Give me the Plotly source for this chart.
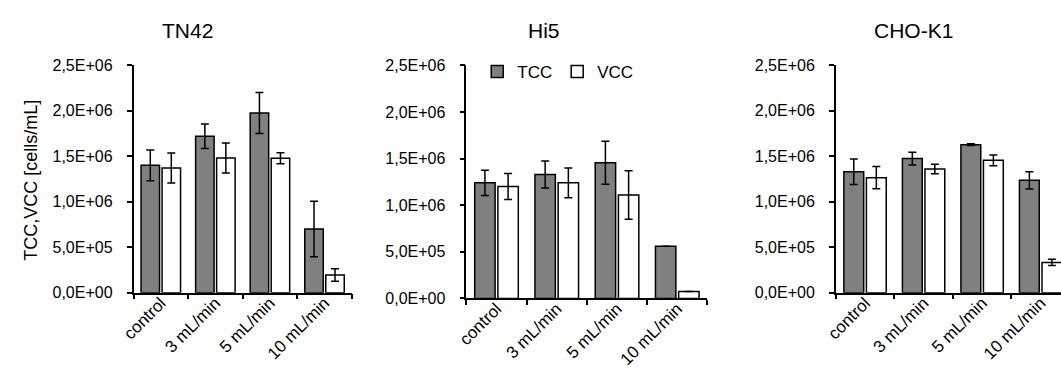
import plotly.graph_objects as go

categories = ["control", "3 mL/min", "5 mL/min", "10 mL/min"]
panels = ["TN42", "Hi5", "CHO-K1"]

# values in cells/mL
tn42_tcc = [1.40e6, 1.72e6, 1.975e6, 0.70e6]
tn42_tcc_err = [0.17e6, 0.135e6, 0.225e6, 0.305e6]
tn42_vcc = [1.37e6, 1.48e6, 1.478e6, 0.195e6]
tn42_vcc_err = [0.165e6, 0.165e6, 0.06e6, 0.068e6]

hi5_tcc = [1.24e6, 1.33e6, 1.455e6, 0.56e6]
hi5_tcc_err = [0.135e6, 0.145e6, 0.23e6, 0.0]
hi5_vcc = [1.20e6, 1.24e6, 1.11e6, 0.075e6]
hi5_vcc_err = [0.14e6, 0.16e6, 0.26e6, 0.0]

cho_tcc = [1.33e6, 1.475e6, 1.628e6, 1.236e6]
cho_tcc_err = [0.14e6, 0.07e6, 0.01e6, 0.095e6]
cho_vcc = [1.265e6, 1.36e6, 1.455e6, 0.333e6]
cho_vcc_err = [0.123e6, 0.053e6, 0.06e6, 0.035e6]

y_tickvals = [0, 0.5e6, 1.0e6, 1.5e6, 2.0e6, 2.5e6]
y_ticktext = ["0,0E+00", "5,0E+05", "1,0E+06", "1,5E+06", "2,0E+06", "2,5E+06"]

series_names = ["TCC", "VCC"]
tcc_color = "#808080"
vcc_color = "#ffffff"

W, H = 1061, 381
FONT = "Arial, 'Liberation Sans', sans-serif"

data = [
    (tn42_tcc, tn42_tcc_err, tn42_vcc, tn42_vcc_err),
    (hi5_tcc, hi5_tcc_err, hi5_vcc, hi5_vcc_err),
    (cho_tcc, cho_tcc_err, cho_vcc, cho_vcc_err),
]

# pixel layout of each panel: x-left, x-right, y-top(2.5E6), y-bottom(0)
px = [(122, 343, 60, 298), (459, 703, 60, 304), (833, 1070, 60, 298)]

fig = go.Figure()
for i, (tcc, tcce, vcc, vcce) in enumerate(data):
    xa = "x" if i == 0 else f"x{i+1}"
    ya = "y" if i == 0 else f"y{i+1}"
    fig.add_trace(go.Bar(
        x=categories, y=tcc, name=series_names[0], xaxis=xa, yaxis=ya,
        marker=dict(color=tcc_color, line=dict(color="black", width=1.5)),
        error_y=dict(type="data", array=tcce, visible=True, color="black", thickness=1.5, width=4),
        showlegend=(i == 1), legendgroup="tcc",
    ))
    fig.add_trace(go.Bar(
        x=categories, y=vcc, name=series_names[1], xaxis=xa, yaxis=ya,
        marker=dict(color=vcc_color, line=dict(color="black", width=1.5)),
        error_y=dict(type="data", array=vcce, visible=True, color="black", thickness=1.5, width=4),
        showlegend=(i == 1), legendgroup="vcc",
    ))

layout = dict(
    width=W, height=H,
    margin=dict(l=0, r=0, t=0, b=0),
    paper_bgcolor="white", plot_bgcolor="white",
    barmode="group", bargap=0.23, bargroupgap=0.12,
    font=dict(family=FONT, size=16, color="black"),
    showlegend=True,
    legend=dict(orientation="h", x=470 / W, y=1 - 67 / H, xanchor="left", yanchor="middle",
                font=dict(size=17), bgcolor="rgba(0,0,0,0)", traceorder="normal",
                itemwidth=30),
)

annotations = []
for i, (xl, xr, yt, yb) in enumerate(px):
    sfx = "" if i == 0 else str(i + 1)
    full_w = xr - xl
    # third panel is cut off at the right edge of the image
    vis_r = min(xr, W)
    cat_w = full_w / 4
    rng_r = 3.5 - (xr - vis_r) / cat_w
    layout["xaxis" + sfx] = dict(
        domain=[xl / W, vis_r / W], anchor="y" + sfx,
        range=[-0.5, rng_r],
        showline=True, linecolor="black", linewidth=1.5,
        ticks="outside", tickson="boundaries", ticklen=5, tickwidth=1.5, tickcolor="black",
        tickangle=-45, tickfont=dict(size=17), ticklabelstandoff=-8,
        showgrid=False, zeroline=False,
    )
    layout["yaxis" + sfx] = dict(
        domain=[1 - yb / H, 1 - yt / H], anchor="x" + sfx,
        range=[0, 2.5e6], tickvals=y_tickvals, ticktext=y_ticktext,
        showline=True, linecolor="black", linewidth=1.5,
        ticks="outside", ticklen=5, tickwidth=1.5, tickcolor="black",
        tickfont=dict(size=16), ticklabelstandoff=11,
        showgrid=False, zeroline=False,
    )
    annotations.append(dict(
        text=panels[i], xref="paper", yref="paper",
        x=[177, 538, 912][i] / W, y=1 - 24 / H, xanchor="center", yanchor="middle",
        showarrow=False, font=dict(size=21),
    ))

annotations.append(dict(
    text="TCC,VCC [cells/mL]", xref="paper", yref="paper",
    x=18 / W, y=1 - 180 / H, xanchor="center", yanchor="middle",
    textangle=-90, showarrow=False, font=dict(size=18),
))
layout["annotations"] = annotations
fig.update_layout(**layout)

fig.write_html("out.html")
